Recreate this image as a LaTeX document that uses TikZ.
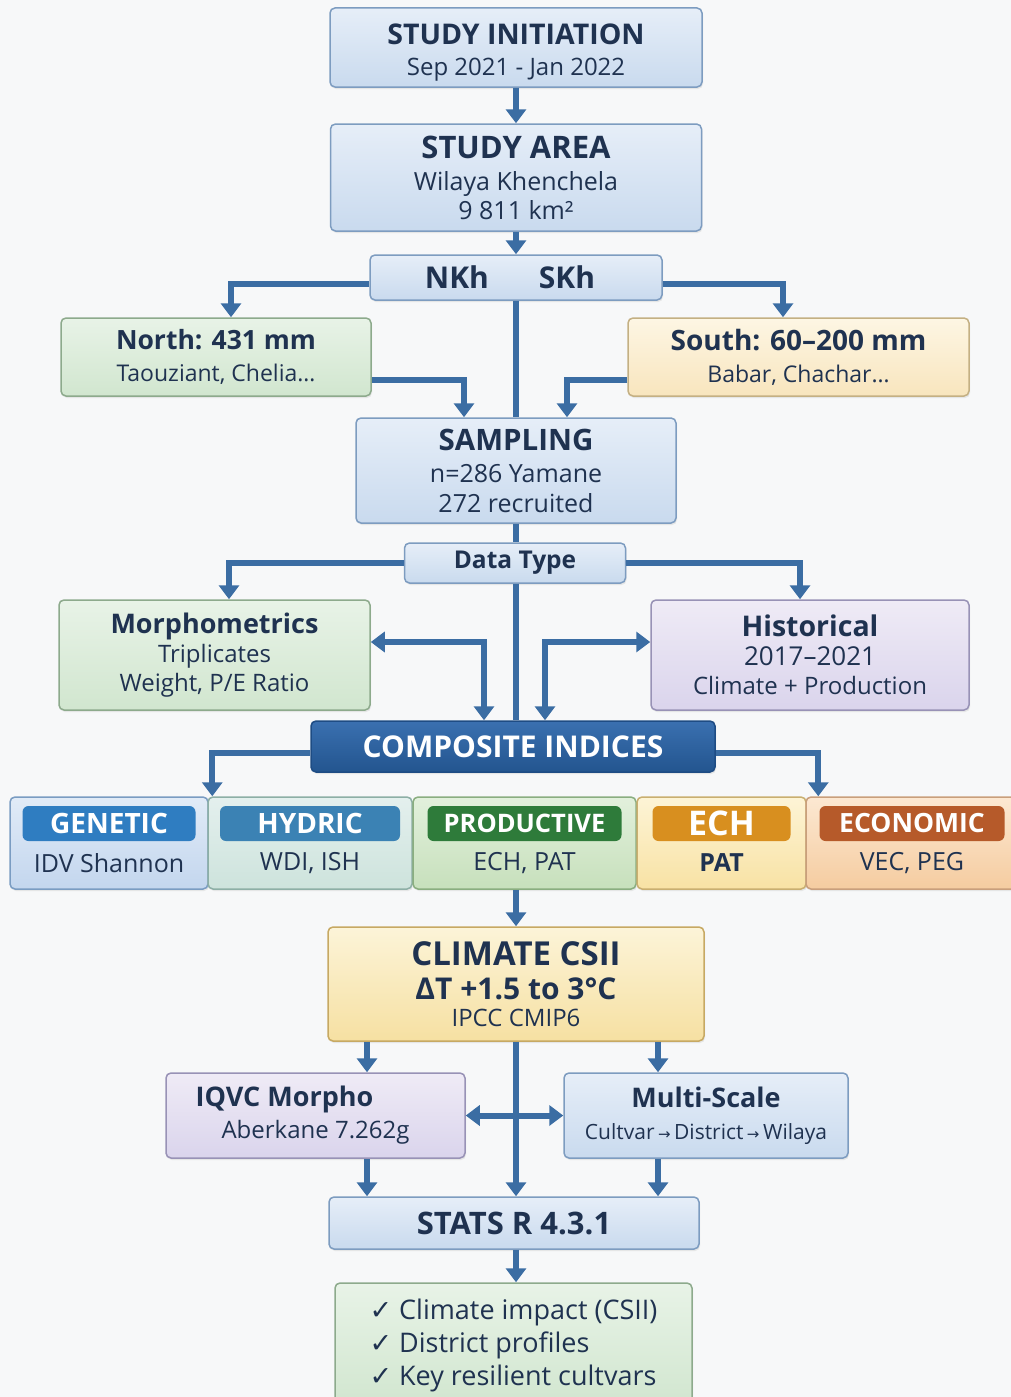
\documentclass[tikz,border=0pt]{standalone}
\usepackage{fontspec}
\setmainfont{Open Sans}
\newfontfamily\symfont{DejaVu Sans}
\usepackage{xcolor}
\usetikzlibrary{arrows.meta, shadows}

\definecolor{ink}{HTML}{1F3250}
\definecolor{arrowblue}{HTML}{3B6DA3}
\definecolor{paper}{HTML}{F7F8F9}
\definecolor{bluetop}{HTML}{E6EEF8}  \definecolor{bluebot}{HTML}{C9DAEE}  \definecolor{blueline}{HTML}{7D9CC0}
\definecolor{greentop}{HTML}{E8F3E7} \definecolor{greenbot}{HTML}{D1E6CF} \definecolor{greenline}{HTML}{8DAA8C}
\definecolor{sandtop}{HTML}{FDF6E4}  \definecolor{sandbot}{HTML}{F8E5BD}  \definecolor{sandline}{HTML}{C4B083}
\definecolor{liltop}{HTML}{EFEBF6}   \definecolor{lilbot}{HTML}{DAD4EC}   \definecolor{lilline}{HTML}{9892B6}
\definecolor{goldtop}{HTML}{FCF4D8}  \definecolor{goldbot}{HTML}{F6E0A2}  \definecolor{goldline}{HTML}{C7A963}
\definecolor{comptop}{HTML}{3A70B0}  \definecolor{compbot}{HTML}{23558F}  \definecolor{compline}{HTML}{1E4C84}
% index colours
\definecolor{genetictop}{HTML}{E1EBF7}    \definecolor{geneticbot}{HTML}{C3D6EE}    \definecolor{geneticline}{HTML}{7A9CC2}    \definecolor{geneticpill}{HTML}{2F7DC1}
\definecolor{hydrictop}{HTML}{E4F0EE}     \definecolor{hydricbot}{HTML}{CDE3DC}     \definecolor{hydricline}{HTML}{8DAFA6}     \definecolor{hydricpill}{HTML}{3B82B4}
\definecolor{productivetop}{HTML}{E2F0DC} \definecolor{productivebot}{HTML}{C7E0BC} \definecolor{productiveline}{HTML}{8AAE80} \definecolor{productivepill}{HTML}{2E7B3A}
\definecolor{echtop}{HTML}{FDF4D6}        \definecolor{echbot}{HTML}{F8E2A4}        \definecolor{echline}{HTML}{C9AF70}        \definecolor{echpill}{HTML}{D88F1F}
\definecolor{economictop}{HTML}{FCE8D2}   \definecolor{economicbot}{HTML}{F5CCA0}   \definecolor{economicline}{HTML}{C99F7C}   \definecolor{economicpill}{HTML}{B65A2A}

\newcommand{\headtxt}[2][27]{{\fontsize{#1}{30}\selectfont\bfseries #2}}

\begin{document}
\begin{tikzpicture}[x=1pt, y=-1pt,
	panel/.style={rounded corners=5pt, line width=1.5pt, align=center, text=ink, inner sep=0pt,
		font=\fontsize{24}{29}\selectfont,
		drop shadow={opacity=0.15, shadow xshift=1pt, shadow yshift=-2pt}},
	tone/.style={panel, draw=#1line, top color=#1top, bottom color=#1bot},
	pill/.style={rounded corners=6pt, fill=#1pill, text=white, inner sep=0pt, minimum height=35pt},
	link/.style={draw=arrowblue, line width=6pt},
	flow/.style={link, -{Triangle[width=20pt, length=14pt]}},
	twoway/.style={link, {Triangle[width=20pt, length=14pt]}-{Triangle[width=20pt, length=14pt]}}]

	\fill[paper] (0,0) rectangle (1011,1397);
	\useasboundingbox (0,0) rectangle (1011,1397);

	% top of the flow
	\node[tone=blue, minimum width=372pt, minimum height=79pt] (init) at (516,47.5)
		{\rule{0pt}{31pt}\headtxt[28.5]{STUDY INITIATION}\\[2pt] Sep 2021 - Jan 2022};
	\node[tone=blue, minimum width=371pt, minimum height=107pt, font=\fontsize{25}{29}\selectfont] (area) at (516,177.5)
		{\headtxt[31]{STUDY AREA}\\[3pt] Wilaya Khenchela\\ 9 811 km²};
	\node[tone=blue, minimum width=292pt, minimum height=45pt, font=\fontsize{30}{30}\selectfont\bfseries] (split) at (516,277.5)
		{NKh\hspace{50pt}SKh\hspace*{12pt}};
	\node[tone=green, minimum width=310pt, minimum height=78pt, font=\fontsize{23}{30}\selectfont] (north) at (216,357)
		{\headtxt[26.5]{North: 431 mm}\\[2pt] Taouziant, Chelia…};
	\node[tone=sand, minimum width=341pt, minimum height=78pt, font=\fontsize{23}{30}\selectfont] (south) at (798.5,357)
		{\headtxt[28]{South: 60–200 mm}\\[2pt] Babar, Chachar…};
	\node[tone=blue, minimum width=320pt, minimum height=105pt, font=\fontsize{25}{30}\selectfont] (sampling) at (516,470.5)
		{\headtxt[29.5]{SAMPLING}\\[2pt] n=286 Yamane\\ 272 recruited};
	\node[tone=blue, minimum width=221pt, minimum height=40pt, font=\fontsize{24.5}{24.5}\selectfont\bfseries] (dtype) at (515,563)
		{Data Type};
	\node[tone=green, minimum width=311pt, minimum height=110pt] (morpho) at (214.5,655)
		{\headtxt[27]{Morphometrics}\\ Triplicates\\ Weight, P/E Ratio};
	\node[tone=lil, minimum width=318pt, minimum height=110pt] (hist) at (810,655)
		{\headtxt[28.5]{Historical}\\ {\fontsize{26}{29}\selectfont 2017–2021}\\ Climate + Production};
	\node[panel, draw=compline, top color=comptop, bottom color=compbot, text=white, minimum width=404pt, minimum height=51pt,
		font=\fontsize{30}{30}\selectfont\bfseries] (comp) at (513,746.5) {COMPOSITE INDICES};

	% the five indices
	\foreach \nm/\cx/\bw/\pw/\ps/\kind/\hdr/\bodytxt in {
		gen/109/198/173/28/genetic/GENETIC/IDV Shannon,
		hyd/310/204/180/28/hydric/HYDRIC/{WDI, ISH},
		prod/524.5/223/194/25.5/productive/PRODUCTIVE/{ECH, PAT},
		ech/721.5/169/138/34/ech/ECH/{\bfseries PAT},
		eco/912/212/185/26.5/economic/ECONOMIC/{VEC, PEG}}
	{
		\node[tone=\kind, minimum width=\bw pt, minimum height=92pt] (\nm) at (\cx,843) {};
		\node[pill=\kind, minimum width=\pw pt, font=\fontsize{\ps}{\ps}\selectfont\bfseries] (\nm-hd) at (\cx,823.5) {\hdr};
		\node[text=ink, font=\fontsize{25}{25}\selectfont] (\nm-tx) at (\cx,863) {\bodytxt};
	}

	\node[tone=gold, minimum width=376pt, minimum height=114pt] (climate) at (516,984)
		{\headtxt[33]{CLIMATE CSII}\\[5pt] {\fontsize{30}{30}\selectfont\bfseries ΔT +1.5 to 3°C}\\[-2pt] IPCC CMIP6};
	\node[tone=lil, minimum width=299pt, minimum height=85pt] (iqvc) at (315.5,1115.5)
		{\headtxt[27]{IQVC Morpho}\hspace*{62pt}\\[3pt] Aberkane 7.262g};
	\node[tone=blue, minimum width=284pt, minimum height=85pt] (multi) at (706,1115.5)
		{\headtxt[27]{Multi-Scale}\\[3pt] {\fontsize{21}{24}\selectfont Cultvar\,{\symfont\fontsize{15}{15}\selectfont →}\,District\,{\symfont\fontsize{15}{15}\selectfont →}\,Wilaya}};
	\node[tone=blue, minimum width=370pt, minimum height=52pt, font=\fontsize{31}{31}\selectfont\bfseries] (stats) at (514,1223)
		{STATS R 4.3.1};
	\node[tone=green, minimum width=357pt, minimum height=124pt, align=left, font=\fontsize{27}{33}\selectfont] (results) at (513.5,1345)
		{{\symfont ✓} Climate impact (CSII)\\ {\symfont ✓} District profiles\\ {\symfont ✓} Key resilient cultvars};

	% connectors
	\draw[flow] (init) -- (area);
	\draw[flow] (area) -- (split);
	\draw[flow] ([yshift=-6pt]split.west) -| ([xshift=15pt]north.north);
	\draw[flow] ([yshift=-6pt]split.east) -| ([xshift=-15.5pt]south.north);
	\draw[link] (split) -- (sampling);
	\draw[flow] ([yshift=-23pt]north.east) -| ([xshift=-52pt]sampling.north);
	\draw[flow] ([yshift=-23pt]south.west) -| ([xshift=51pt]sampling.north);

	\draw[link] (sampling.south) -- (sampling.south |- dtype.north);
	\draw[flow] (dtype.west) -| ([xshift=14.5pt]morpho.north);
	\draw[flow] (dtype.east) -| ([xshift=-10pt]hist.north);
	\draw[link] (sampling.south |- dtype.south) -- (sampling.south |- comp.north);
	\draw[twoway] ([yshift=13pt]morpho.east) -| ([xshift=-29pt]comp.north);
	\draw[twoway] ([xshift=32pt]comp.north) |- ([yshift=13pt]hist.west);

	\draw[flow] ([yshift=-6.5pt]comp.west) -| ([xshift=5pt]hyd.north west);
	\draw[flow] ([yshift=-6.5pt]comp.east) -| ([xshift=13pt]eco.north west);

	\draw[flow] (prod.south -| climate.north) -- (climate.north);
	\draw[flow] ([xshift=51.5pt]iqvc.north |- climate.south) -- ([xshift=51.5pt]iqvc.north);
	\draw[flow] ([xshift=-48pt]multi.north |- climate.south) -- ([xshift=-48pt]multi.north);
	\draw[flow] (climate.south) -- (climate.south |- stats.north);
	\draw[twoway] (iqvc.east) -- (multi.west);
	\draw[flow] ([xshift=51.5pt]iqvc.south) -- ([xshift=51.5pt]iqvc.south |- stats.north);
	\draw[flow] ([xshift=-48pt]multi.south) -- ([xshift=-48pt]multi.south |- stats.north);
	\draw[flow] (stats.south -| climate.south) -- (climate.south |- results.north);
\end{tikzpicture}
\end{document}
